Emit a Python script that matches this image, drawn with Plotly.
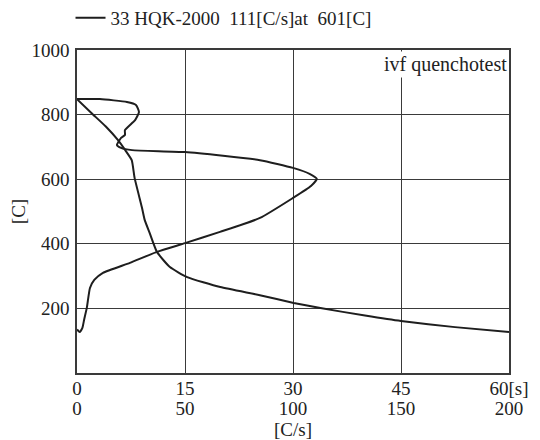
import plotly.graph_objects as go

# Temperature vs time curve
time_s = [0, 2, 4, 5.7, 6.7, 7.6, 8.0, 9.0, 9.4, 10.1, 11.1, 12.9, 15.3, 19.9, 25.4, 30.1, 33.8, 40, 45, 52.5, 60]
temp_time = [848, 805, 763, 721, 690, 659, 604, 514, 474, 433, 375, 328, 297, 266, 241, 217, 201, 178, 161, 142, 127]

# Temperature vs cooling rate curve
rate_cs = [0, 10.6, 23.1, 27.3, 28.7, 26.9, 22.2, 22.2, 20.4, 18.5, 20.4, 25.5, 50, 84.7, 100, 107.9, 111,
           108.3, 100, 84.7, 66.2, 50, 37, 24.5, 12, 8, 6.0, 4.6, 3.3, 2.5, 1.2, 0]
temp_rate = [848, 848, 839, 830, 808, 783, 752, 737, 728, 706, 697, 690, 684, 659, 635, 616, 601,
             579, 542, 480, 437, 402, 375, 341, 310, 288, 263, 204, 165, 140, 127, 135]

time_tickvals = [0, 15, 30, 45, 60]
time_ticktext = ["0", "15", "30", "45", "60[s]"]
rate_tickvals = [0, 50, 100, 150, 200]
rate_ticktext = ["0", "50", "100", "150", "200"]
y_tickvals = [200, 400, 600, 800, 1000]

legend_name = "33\u00a0HQK-2000\u00a0\u00a0111[C/s]at\u00a0\u00a0601[C]"
note_text = "ivf quenchotest"

FONT = "Liberation Serif"
LINE = "#1e1e1e"
GRID = "#3a3a3a"

fig = go.Figure()
fig.add_trace(go.Scatter(x=time_s, y=temp_time, mode="lines", name=legend_name,
                         line=dict(color=LINE, width=2, shape="spline", smoothing=0.5),
                         xaxis="x", yaxis="y"))
fig.add_trace(go.Scatter(x=rate_cs, y=temp_rate, mode="lines", showlegend=False,
                         line=dict(color=LINE, width=2, shape="spline", smoothing=0.5),
                         xaxis="x2", yaxis="y"))

fig.update_layout(
    width=532, height=432,
    margin=dict(l=69, r=31, t=42, b=67, autoexpand=False),
    paper_bgcolor="white", plot_bgcolor="white",
    font=dict(family=FONT, size=19, color="#222"),
    showlegend=True,
    legend=dict(x=-0.015, y=1.099, xanchor="left", yanchor="middle", orientation="h",
                font=dict(size=19), bgcolor="rgba(0,0,0,0)", itemwidth=30),
    xaxis=dict(range=[0, 60], tickvals=time_tickvals, ticktext=time_ticktext,
               showgrid=True, gridcolor=GRID, gridwidth=1.3,
               showline=True, linecolor=GRID, linewidth=1.5, mirror=True,
               ticks="", zeroline=False, ticklabelstandoff=-3, automargin=False),
    xaxis2=dict(range=[0, 200], overlaying="x", side="bottom", anchor="y",
                tickvals=rate_tickvals, ticktext=rate_ticktext,
                showgrid=False, showline=False, zeroline=False, ticks="",
                ticklabelstandoff=22, automargin=False,
                title=dict(text="[C/s]", standoff=0, font=dict(size=19))),
    yaxis=dict(range=[0, 1000], tickvals=y_tickvals, showgrid=True, gridcolor=GRID, gridwidth=1.3,
               showline=True, linecolor=GRID, linewidth=1.5, mirror=True,
               ticks="", zeroline=False, ticklabelstandoff=2, automargin=False,
               title=dict(text="[C]", standoff=8, font=dict(size=19))),
)

fig.add_annotation(x=1.0, y=1.0, xref="paper", yref="paper", xanchor="right", yanchor="top",
                   text=note_text, showarrow=False, bgcolor="white",
                   font=dict(family=FONT, size=20, color="#222"), xshift=0, yshift=-1,
                   borderpad=1)

fig.write_html("out.html")
